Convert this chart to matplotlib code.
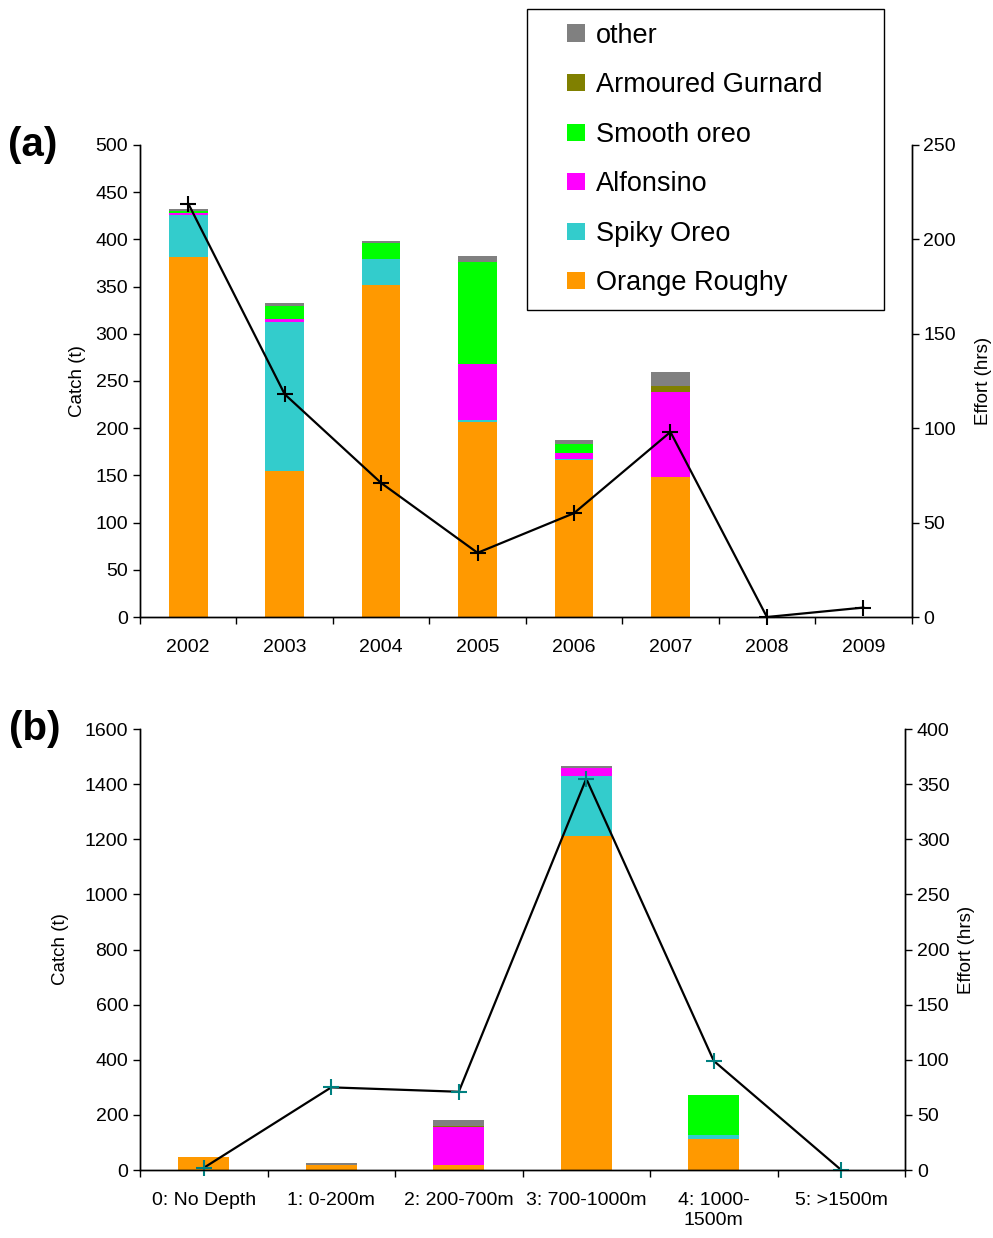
"""
Catch by species with effort line: (a) by year, (b) by depth band.
"""

import matplotlib
matplotlib.use("Agg")
import matplotlib.pyplot as plt
from matplotlib.patches import Patch, Rectangle
from matplotlib.legend_handler import HandlerPatch
import numpy as np

plt.rcParams['font.family'] = ['Liberation Sans', 'DejaVu Sans']

species = ['Orange Roughy', 'Spiky Oreo', 'Alfonsino', 'Smooth oreo',
           'Armoured Gurnard', 'other']
colors = ['#FF9900', '#33CCCC', '#FF00FF', '#00FF00', '#808000', '#808080']

# panel (a): by year
years = ['2002', '2003', '2004', '2005', '2006', '2007', '2008', '2009']
orange_a = [381, 155, 352, 207, 166, 148, 0, 0]
spiky_a = [45, 158, 27, 2, 1, 0, 0, 0]
alfonsino_a = [2, 3, 0.5, 59, 6.5, 90, 0, 0]
smooth_a = [2, 13, 17, 108, 9.5, 0, 0, 0]
armoured_a = [0, 0, 0, 0, 0, 6.5, 0, 0]
other_a = [2, 4, 2, 6, 4, 14.5, 0, 0]
effort_a = [219, 118, 71, 34, 55, 98, 0, 5]

# panel (b): by depth band
depths = ['0: No Depth', '1: 0-200m', '2: 200-700m', '3: 700-1000m',
          '4: 1000-\n1500m', '5: >1500m']
orange_b = [47, 18, 18, 1213, 112, 0]
spiky_b = [0, 0, 0, 218, 15, 0]
alfonsino_b = [0, 0, 138, 29, 0, 0]
smooth_b = [0, 0, 0, 0, 145, 0]
armoured_b = [0, 0, 5, 0, 0, 0]
other_b = [0, 7, 20, 7, 0, 0]
effort_b = [2, 75, 71, 355, 99, 0]

TICK_FS = 14
LABEL_FS = 13.5


def draw_panel(ax, cats, series, effort, ymax, ystep, emax, estep,
               marker_color, tag, lpad, rpad):
    x = np.arange(len(cats))
    bottom = np.zeros(len(cats))
    for vals, col in zip(series, colors):
        ax.bar(x, vals, width=0.4, bottom=bottom, color=col, linewidth=0)
        bottom += np.array(vals, dtype=float)
    ax.set_xlim(-0.5, len(cats) - 0.5)
    ax.set_ylim(0, ymax)
    ax.set_yticks(np.arange(0, ymax + 1, ystep))
    ax.set_xticks(x)
    ax.set_xticklabels(cats, fontsize=TICK_FS)
    ax.set_xticks(np.arange(len(cats) + 1) - 0.5, minor=True)
    ax.tick_params(axis='x', which='major', length=0, pad=16)
    ax.tick_params(axis='x', which='minor', length=5, width=1)
    ax.tick_params(axis='y', labelsize=TICK_FS, length=5, width=1)
    ax.spines['top'].set_visible(False)
    ax.set_ylabel('Catch (t)', fontsize=LABEL_FS, labelpad=lpad)

    ax2 = ax.twinx()
    ax2.plot(x, effort, color='black', linewidth=1.6, marker='+',
             markersize=11, markeredgewidth=1.5, markeredgecolor=marker_color,
             clip_on=False)
    ax2.set_ylim(0, emax)
    ax2.set_yticks(np.arange(0, emax + 1, estep))
    ax2.tick_params(axis='y', labelsize=TICK_FS, length=5, width=1)
    ax2.spines['top'].set_visible(False)
    ax2.set_ylabel('Effort (hrs)', fontsize=LABEL_FS, labelpad=rpad)
    for a in (ax, ax2):
        for s in a.spines.values():
            s.set_linewidth(1)
    ax.text(-0.171, 1.0, tag, transform=ax.transAxes, fontsize=29,
            fontweight='bold', ha='left', va='center')


def square_right(legend, orig_handle, xdescent, ydescent, width, height,
                 fontsize):
    # small square pushed to the right end of the handle box
    s = height
    return Rectangle((-xdescent + width - s, -ydescent), s, s)


fig = plt.figure(figsize=(9.93, 12.38), dpi=100)
ax_a = fig.add_axes([0.141, 0.5016, 0.777, 0.3813])
ax_b = fig.add_axes([0.141, 0.0549, 0.7704, 0.3562])

draw_panel(ax_a, years,
           [orange_a, spiky_a, alfonsino_a, smooth_a, armoured_a, other_a],
           effort_a, 500, 50, 250, 50, 'black', '(a)', 7, 14)
draw_panel(ax_b, depths,
           [orange_b, spiky_b, alfonsino_b, smooth_b, armoured_b, other_b],
           effort_b, 1600, 200, 400, 50, '#008080', '(b)', 11, 6)

handles = [Patch(facecolor=c, edgecolor='none') for c in colors[::-1]]
leg = fig.legend(handles, species[::-1], loc='upper left',
                 bbox_to_anchor=(0.5307, 0.7544, 0.3595, 0.2383),
                 mode='expand', borderaxespad=0, fontsize=19.5,
                 handlelength=1.63, handleheight=0.6, handletextpad=0.41,
                 labelspacing=0.87, borderpad=0.5, fancybox=False,
                 edgecolor='black', framealpha=1,
                 handler_map={Patch: HandlerPatch(patch_func=square_right)})
leg.get_frame().set_linewidth(1)

fig.savefig('out.png', dpi=100)
